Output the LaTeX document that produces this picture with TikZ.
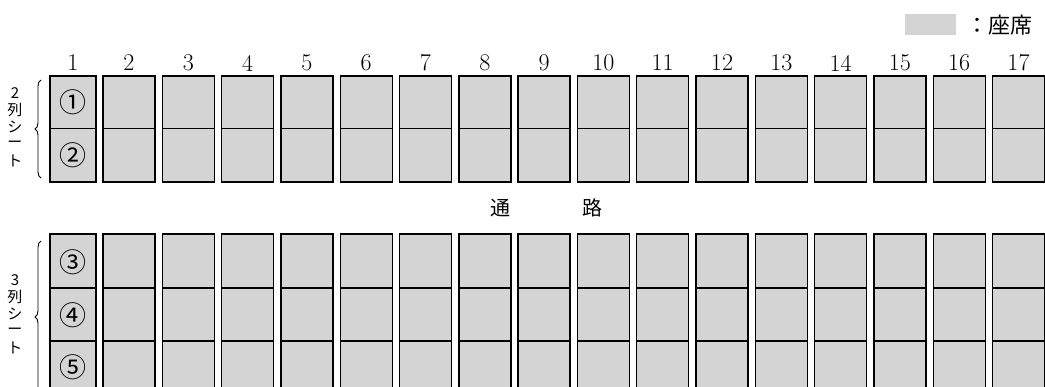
\documentclass[tikz,border=0pt]{standalone}
\usepackage{fontspec}
\newfontfamily\jp{Noto Sans CJK JP}
\usetikzlibrary{decorations.pathreplacing}
\tikzset{
  seat/.style={draw=black, line width=1.4pt, fill=black!17},
  divline/.style={draw=black, line width=1.7pt},
  collabel/.style={font=\fontsize{24}{24}\selectfont, inner sep=0pt},
  circnum/.style={font=\jp\fontsize{27}{27}\selectfont, inner sep=0pt},
  vchar/.style={font=\jp\fontsize{15}{15}\selectfont, inner sep=0pt},
  bracestyle/.style={draw=black, line width=0.9pt, decorate, decoration={brace, amplitude=6pt}},
  aisle/.style={font=\jp\fontsize{20}{20}\selectfont, inner sep=0pt}
}
\begin{document}
\begin{tikzpicture}[x=1pt, y=-1pt]
\useasboundingbox (0,0) rectangle (1045,387);
\clip (0,0) rectangle (1045,387);
% legend
\fill[black!17] (905,14) rectangle (956,35);
\node[font=\jp\fontsize{22}{22}\selectfont, anchor=west, inner sep=0pt] (legend) at (966,25) {：座席};
% column 1
\node[collabel] (c1) at (73,63) {1};
\path[seat] (50,76) rectangle (96,182);
\draw[divline] (50,128.5) -- (96,128.5);
\path[seat] (50,234) rectangle (96,400);
\draw[divline] (50,288) -- (96,288);
\draw[divline] (50,341) -- (96,341);
\node[circnum] (n1) at (73,102) {①};
\node[circnum] (n2) at (73,155) {②};
\node[circnum] (n3) at (73,262) {③};
\node[circnum] (n4) at (73,315) {④};
\node[circnum] (n5) at (73,367) {⑤};
% columns 2..17
\foreach \k in {2,...,17}{
  \pgfmathsetmacro{\L}{103+(\k-2)*59.3}
  \pgfmathsetmacro{\R}{\L+52}
  \pgfmathsetmacro{\C}{\L+26}
  \node[collabel] (c\k) at (\C,63) {\k};
  \path[seat] (\L,76) rectangle (\R,182);
  \draw[divline] (\L,128.5) -- (\R,128.5);
  \path[seat] (\L,234) rectangle (\R,400);
  \draw[divline] (\L,288) -- (\R,288);
  \draw[divline] (\L,341) -- (\R,341);
}
% aisle
\node[aisle] (a1) at (500,208) {通};
\node[aisle] (a2) at (592,208) {路};
% side labels
\coordinate (b1t) at (41,80);
\coordinate (b1b) at (41,178);
\draw[bracestyle] (b1b) -- (b1t);
\node[vchar] (t1) at (15,93) {2};
\node[vchar] (t2) at (15,110) {列};
\node[vchar] (t3) at (15,127) {シ};
\node[vchar] (t4) at (15,144) {ー};
\node[vchar] (t5) at (15,161) {ト};
\coordinate (b2t) at (41,241);
\coordinate (b2b) at (41,393);
\draw[bracestyle] (b2b) -- (b2t);
\node[vchar] (u1) at (15,280) {3};
\node[vchar] (u2) at (15,297) {列};
\node[vchar] (u3) at (15,314) {シ};
\node[vchar] (u4) at (15,331) {ー};
\node[vchar] (u5) at (15,348) {ト};
\end{tikzpicture}
\end{document}
